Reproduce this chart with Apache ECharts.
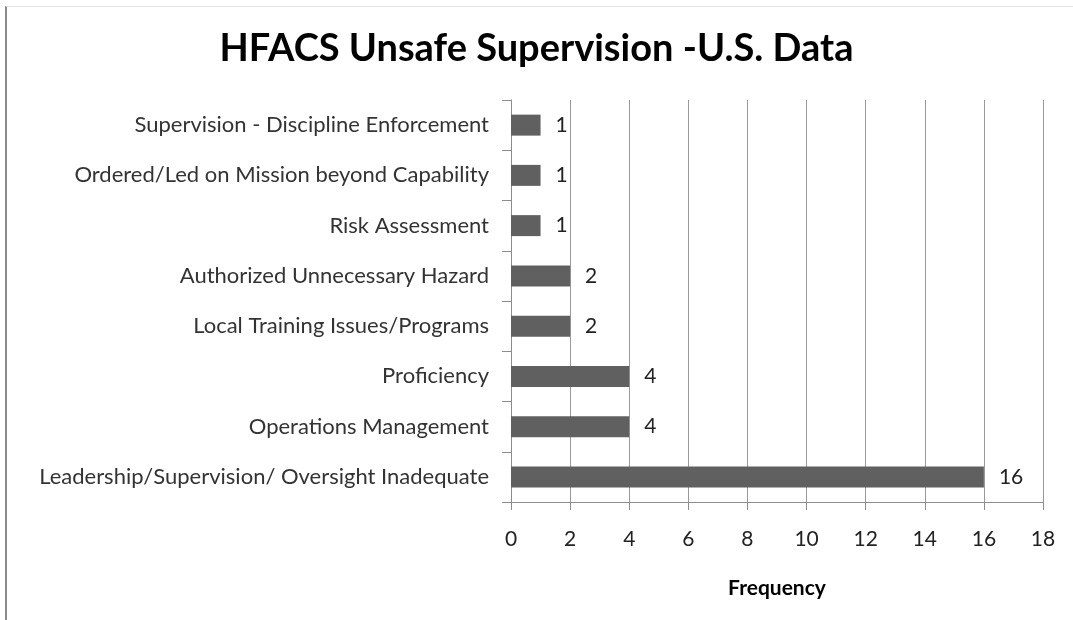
<!DOCTYPE html>
<html>
<head>
<meta charset="utf-8">
<script src="https://cdn.jsdelivr.net/npm/echarts@6/dist/echarts.min.js"></script>
<style>
html,body{margin:0;padding:0;background:#fff;}
#frame{position:absolute;left:5px;top:6px;width:1068px;height:614px;border-left:2px solid #8a8a8a;border-top:1px solid #e2e2e2;}
#chart{position:absolute;left:0;top:0;width:1073px;height:620px;}
</style>
</head>
<body>
<div id="frame"></div>
<div id="chart"></div>
<script>

// categories listed top to bottom
const categories = [
"Supervision - Discipline Enforcement",
"Ordered/Led on Mission beyond Capability",
"Risk Assessment",
"Authorized Unnecessary Hazard",
"Local Training Issues/Programs",
"Proficiency",
"Operations Management",
"Leadership/Supervision/ Oversight Inadequate"
]

const frequency = [1,1,1,2,2,4,4,16]

const xMin = 0
const xMax = 18
const xStep = 2

const chart = echarts.init(document.getElementById("chart"))

chart.setOption({

animation:false,

title:{
text:"HFACS Unsafe Supervision -U.S. Data",
left:"center",
top:25,
textStyle:{fontFamily:"Lato",fontWeight:"bold",fontSize:38,color:"#000"}
},

grid:{left:511,right:30,top:100,bottom:118,containLabel:false},

xAxis:{
type:"value",
min:xMin,
max:xMax,
interval:xStep,
name:"Frequency",
nameLocation:"middle",
nameGap:76,
nameTextStyle:{fontFamily:"Lato",fontWeight:"bold",fontSize:21,color:"#000"},
axisLine:{show:true,lineStyle:{color:"#8c8c8c",width:1}},
axisTick:{show:true,length:8,lineStyle:{color:"#8c8c8c"}},
axisLabel:{margin:27,fontFamily:"Lato",fontSize:21,color:"#222"},
splitLine:{show:true,lineStyle:{color:"#9a9a9a",width:1}}
},

yAxis:{
type:"category",
inverse:true,
data:categories,
axisLine:{show:true,lineStyle:{color:"#8c8c8c",width:1}},
axisTick:{show:true,length:9,lineStyle:{color:"#8c8c8c"}},
axisLabel:{margin:22,fontFamily:"Lato",fontSize:22,color:"#333"}
},

series:[{
type:"bar",
data:frequency,
barWidth:21,
itemStyle:{color:"#606060"},
label:{show:true,position:"right",distance:15,fontFamily:"Lato",fontSize:21,color:"#222"}
}]

})

</script>
</body>
</html>
